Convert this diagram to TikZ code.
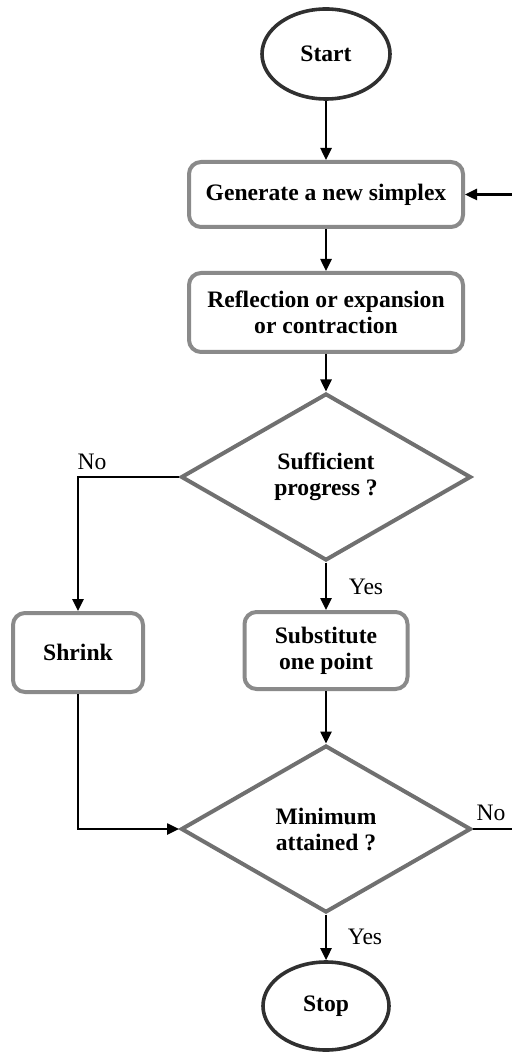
\documentclass[tikz,border=0pt]{standalone}
\usepackage{fontspec}
\setmainfont{Liberation Serif}
\usetikzlibrary{shapes.geometric,arrows.meta}

\definecolor{boxgray}{RGB}{138,138,138}
\definecolor{diagray}{RGB}{112,112,112}
\definecolor{ovalgray}{RGB}{48,48,48}

\tikzset{
  every node/.style={font=\fontsize{11.5}{13}\selectfont},
  terminal/.style={ellipse, draw=ovalgray, line width=1.8pt, inner sep=0pt,
    font=\fontsize{11.8}{13}\selectfont\bfseries},
  process/.style={rectangle, rounded corners=6pt, draw=boxgray, line width=2pt,
    align=center, inner sep=0pt, font=\fontsize{11.8}{13}\selectfont\bfseries},
  decision/.style={diamond, draw=diagray, line width=2pt, align=center,
    inner sep=0pt, minimum width=145pt, minimum height=83.5pt,
    font=\fontsize{11.8}{13}\selectfont\bfseries},
  flow/.style={line width=1.25pt, -{Triangle[length=6pt,width=5.5pt]}},
  branch/.style={font=\fontsize{11.8}{13}\selectfont},
}

\begin{document}
\begin{tikzpicture}[x=0.5pt, y=-0.5pt]
  \useasboundingbox (0,0) rectangle (511,1052);

  % shapes
  \node[terminal, minimum width=64pt, minimum height=45pt] (start) at (326,54) {Start};
  \node[process, minimum width=137pt, minimum height=32.5pt] (gen) at (326,194.5)
    {Generate a new simplex};
  \node[process, minimum width=137pt, minimum height=39.5pt] (refl) at (326,312.5)
    {Reflection or expansion\\or contraction};
  \node[decision] (prog) at (326,477) {Sufficient\\progress ?};
  \node[process, minimum width=65pt, minimum height=39.5pt] (shrink) at (78,652.5) {Shrink};
  \node[process, minimum width=81.5pt, minimum height=38.5pt] (subst) at (326,650.5)
    {Substitute\\one point};
  \node[decision] (minat) at (326,829) {Minimum\\attained ?};
  \node[terminal, minimum width=63pt, minimum height=44pt] (stop) at (326,1006) {Stop};

  % loop-back point beyond the right edge
  \coordinate (loop) at (515,829);

  % connectors
  \draw[flow] (start) -- (gen);
  \draw[flow] (gen) -- (refl);
  \draw[flow] (refl) -- (prog);
  \draw[flow] (prog.south) -- (subst.north);
  \draw[flow] (prog.west) -| (shrink.north);
  \draw[flow] (subst) -- (minat);
  \draw[flow] (shrink.south) |- (minat.west);
  \draw[flow] (minat.south) -- (stop.north);
  \draw[flow] (minat.east) -- (loop) |- (gen.east);

  % branch labels
  \node[branch] (yes1) at (366,587) {Yes};
  \node[branch] (no1) at (92,462) {No};
  \node[branch] (yes2) at (365,937) {Yes};
  \node[branch] (no2) at (491,813) {No};
\end{tikzpicture}
\end{document}
